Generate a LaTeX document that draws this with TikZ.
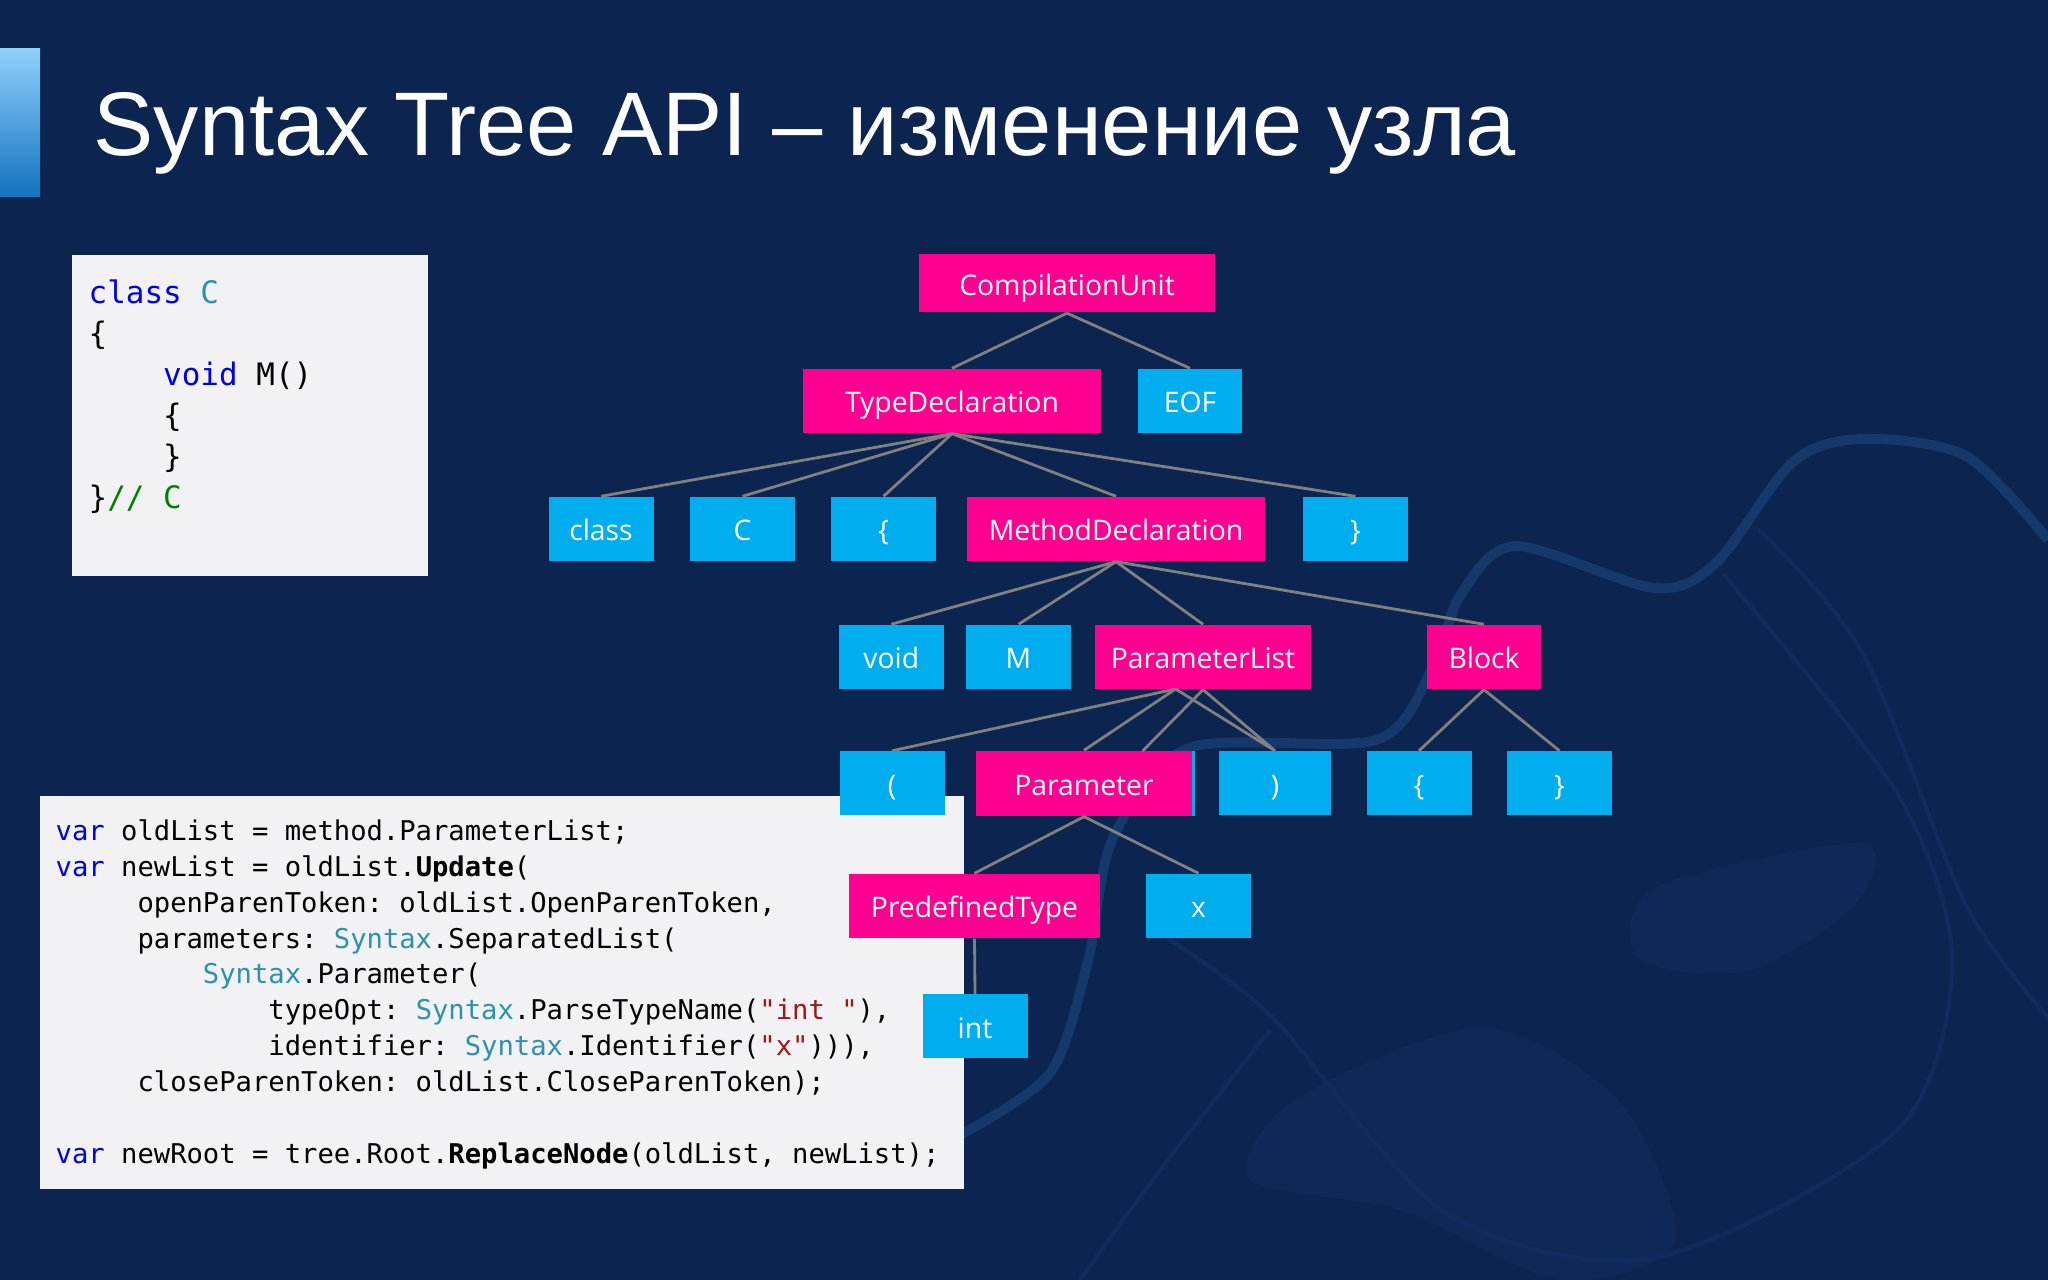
\documentclass[tikz,border=0pt]{standalone}
\usepackage{fontspec}
\setmainfont{Open Sans}
\setmonofont{DejaVu Sans Mono}
\newfontfamily\titlefont{Liberation Sans}

\definecolor{slidebg}{HTML}{0C2450}
\definecolor{ribbon}{HTML}{15396A}
\definecolor{ribbonfaint}{HTML}{102C5C}
\definecolor{blobfill}{HTML}{0E2955}
\definecolor{accenttop}{HTML}{8FD0FB}
\definecolor{accentbot}{HTML}{1272BF}
\definecolor{pinkbox}{HTML}{FF0090}
\definecolor{cyanbox}{HTML}{00AEEF}
\definecolor{paper}{HTML}{F2F2F4}
\definecolor{kwblue}{HTML}{0000E6}
\definecolor{tyteal}{HTML}{2B91AF}
\definecolor{strred}{HTML}{A31515}
\definecolor{cmtgreen}{HTML}{008000}

\newcommand{\kw}[1]{\textcolor{kwblue}{#1}}
\newcommand{\tyname}[1]{\textcolor{tyteal}{#1}}
\newcommand{\strlit}[1]{\textcolor{strred}{#1}}
\newcommand{\cmt}[1]{\textcolor{cmtgreen}{#1}}

\begin{document}
\begin{tikzpicture}[x=0.01cm, y=-0.01cm]
	\tikzstyle{nonterm} = [rectangle, inner sep=0pt, fill=pinkbox, text=white, text height=7.4pt, text depth=0.8pt, font=\fontsize{8.05}{10}\selectfont]
	\tikzstyle{token}   = [rectangle, inner sep=0pt, fill=cyanbox, text=white, text height=7.4pt, text depth=0.8pt, font=\fontsize{8.05}{10}\selectfont]
	\tikzstyle{link}    = [draw=gray, line width=0.8pt]
	\tikzstyle{paperbox} = [rectangle, inner sep=0pt, fill=paper]

	\fill[slidebg] (0,0) rectangle (2048,1280);
	\useasboundingbox (0,0) rectangle (2048,1280);

	% background swirls
	\fill[blobfill] plot[smooth cycle] coordinates {(1293,1101) (1480,1028) (1619,1101) (1675,1242) (1560,1280) (1400,1210) (1250,1180)};
	\fill[blobfill] plot[smooth cycle] coordinates {(1654,888) (1862,843) (1855,905) (1750,970) (1640,960)};
	\draw[ribbonfaint, line width=1.2pt] plot[smooth] coordinates {(1723,574) (1897,793) (1952,961) (1897,1130) (1654,1258) (1446,1213) (1272,1017) (1168,939)};
	\draw[ribbonfaint, line width=1.2pt] plot[smooth] coordinates {(1758,529) (1862,652) (1966,905) (2048,1017)};
	\draw[ribbonfaint, line width=1.2pt] plot[smooth] coordinates {(1270,1030) (1160,1170) (1080,1280)};
	\draw[ribbon, line width=2.8pt] plot[smooth] coordinates {(960,1135) (1050,1073) (1088,961) (1113,838) (1189,748) (1376,740) (1432,669) (1460,596) (1515,546) (1654,588) (1716,563) (1793,462) (1862,439) (1966,456) (2048,540)};

	\shade[top color=accenttop, bottom color=accentbot] (0,49) rectangle (40,197);
	\node[anchor=base west, inner sep=0pt, text=white, font=\titlefont\fontsize{25.67}{30}\selectfont] (title) at (93,155.5) {Syntax Tree API – изменение узла};

	% code boxes
	\node[paperbox, anchor=north west, minimum width=356*0.01cm, minimum height=321*0.01cm] (srcbox) at (71,254) {};
	\node[anchor=base west, inner sep=0pt, align=left, font=\ttfamily\fontsize{8.8}{11.66}\selectfont] (src) at (88,509) {%
		\kw{class} \tyname{C}\\
		\{\\
		~~~~\kw{void} M()\\
		~~~~\{\\
		~~~~\}\\
		\}\cmt{// C}};

	\node[paperbox, anchor=north west, minimum width=924*0.01cm, minimum height=393*0.01cm] (updbox) at (39,795) {};
	\node[anchor=base west, inner sep=0pt, align=left, font=\ttfamily\fontsize{7.73}{10.21}\selectfont] (upd) at (55,1163.5) {%
		\kw{var} oldList = method.ParameterList;\\
		\kw{var} newList = oldList.\textbf{Update}(\\
		~~~~~openParenToken: oldList.OpenParenToken,\\
		~~~~~parameters: \tyname{Syntax}.SeparatedList(\\
		~~~~~~~~~\tyname{Syntax}.Parameter(\\
		~~~~~~~~~~~~~typeOpt: \tyname{Syntax}.ParseTypeName(\strlit{"int "}),\\
		~~~~~~~~~~~~~identifier: \tyname{Syntax}.Identifier(\strlit{"x"}))),\\
		~~~~~closeParenToken: oldList.CloseParenToken);\\
		~\\
		\kw{var} newRoot = tree.Root.\textbf{ReplaceNode}(oldList, newList);};

	% tree
	\node[token, minimum width=219*0.01cm, minimum height=65*0.01cm] (oldparam) at (1085,783.5) {};

	\foreach \name/\lbl/\x/\y/\w/\h in {unit/CompilationUnit/1067/283.5/296/58, typedecl/TypeDeclaration/952/401/298/64, method/MethodDeclaration/1116/529/298/64, params/ParameterList/1203/657/216/64, block/Block/1484/657/114.5/64, param/Parameter/1084/783.5/216/65, predef/PredefinedType/974.5/906/251/64}
		\node[nonterm, minimum width=\w*0.01cm, minimum height=\h*0.01cm] (\name) at (\x, \y) {\lbl};

	\foreach \name/\lbl/\x/\y/\w in {eof/EOF/1190/401/104, kwclass/class/601/529/105, kwc/C/742.5/529/105, lbrace/\{/883.5/529/105, rbrace/\}/1355.5/529/105, kwvoid/void/891.3/657/105, kwm/M/1018.5/657/105, lparen/(/892/783.5/105, rparen/)/1275/783.5/111.5, blockl/\{/1419/783.5/105, blockr/\}/1559.5/783.5/105, kwx/x/1198.5/906/105, kwint/int/975/1026.5/105}
		\node[token, minimum width=\w*0.01cm, minimum height=64*0.01cm] (\name) at (\x, \y) {\lbl};

	\coordinate (oldtop) at (1175.6,689);
	\coordinate (oldparamtop) at (1142.6,751);

	\foreach \from/\to in {unit/typedecl, unit/eof, typedecl/kwclass, typedecl/kwc, typedecl/lbrace, typedecl/method, typedecl/rbrace, method/kwvoid, method/kwm, method/params, method/block, params/rparen, block/blockl, block/blockr, param/predef, param/kwx, predef/kwint}
		\draw[link] (\from.south) -- (\to.north);

	\draw[link] (params.south) -- (oldparamtop);
	\foreach \to in {lparen, param, rparen}
		\draw[link] (oldtop) -- (\to.north);

\end{tikzpicture}
\end{document}
